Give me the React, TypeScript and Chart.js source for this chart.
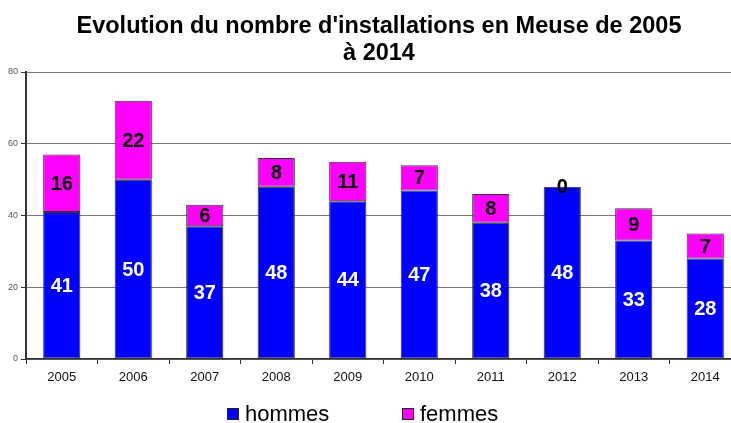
import React, { useEffect, useRef } from "react";
import { Chart, registerables } from "chart.js";

Chart.register(...registerables);

const years = ["2005", "2006", "2007", "2008", "2009", "2010", "2011", "2012", "2013", "2014"];
const hommes = [41, 50, 37, 48, 44, 47, 38, 48, 33, 28];
const femmes = [16, 22, 6, 8, 11, 7, 8, 0, 9, 7];
const titleLines = ["Evolution du nombre d'installations en Meuse de 2005", "à 2014"];
const yTicks = [0, 20, 40, 60, 80];

const FONT = "'Liberation Sans', Arial, sans-serif";

const titlePlugin = {
  id: "customTitle",
  afterDraw(chart: any) {
    const ctx = chart.ctx;
    ctx.save();
    ctx.fillStyle = "#000";
    ctx.font = `bold 23.5px ${FONT}`;
    ctx.textAlign = "center";
    ctx.textBaseline = "alphabetic";
    ctx.fillText(titleLines[0], 379, 33);
    ctx.fillText(titleLines[1], 379, 60);
    ctx.restore();
  },
};

const labelPlugin = {
  id: "barLabels",
  afterDatasetsDraw(chart: any) {
    const ctx = chart.ctx;
    ctx.save();
    ctx.font = `bold 20px ${FONT}`;
    ctx.textAlign = "center";
    ctx.textBaseline = "middle";
    chart.data.datasets.forEach((ds: any, di: number) => {
      const meta = chart.getDatasetMeta(di);
      meta.data.forEach((el: any, i: number) => {
        const v = ds.data[i];
        const cy = (el.y + el.base) / 2;
        ctx.fillStyle = di === 0 ? "#ffffff" : "#000000";
        ctx.fillText(String(v), el.x, cy + 1);
      });
    });
    ctx.restore();
  },
};

const legendPlugin = {
  id: "customLegend",
  afterDraw(chart: any) {
    const ctx = chart.ctx;
    const items = chart.data.datasets;
    const xs = [227, 402];
    ctx.save();
    ctx.font = `22px ${FONT}`;
    ctx.textBaseline = "alphabetic";
    items.forEach((ds: any, i: number) => {
      const x = xs[i];
      ctx.fillStyle = ds.backgroundColor;
      ctx.fillRect(x, 408, 12, 12);
      ctx.strokeStyle = "#222";
      ctx.lineWidth = 1;
      ctx.strokeRect(x + 0.5, 408.5, 11, 11);
      ctx.fillStyle = "#000";
      ctx.fillText(ds.label, x + 18, 421);
    });
    ctx.restore();
  },
};

export default function App() {
  const ref = useRef<HTMLCanvasElement>(null);
  useEffect(() => {
    if (!ref.current) return;
    const chart = new Chart(ref.current, {
      type: "bar",
      data: {
        labels: years,
        datasets: [
          {
            label: "hommes",
            data: hommes,
            backgroundColor: "#0000ff",
            borderColor: "#333",
            borderWidth: 1,
            borderSkipped: false,
          },
          {
            label: "femmes",
            data: femmes,
            backgroundColor: "#ff00ff",
            borderColor: "#333",
            borderWidth: 1,
            borderSkipped: false,
          },
        ],
      },
      options: {
        responsive: false,
        animation: false,
        layout: { padding: { top: 72, left: 0, right: 0, bottom: 0 } },
        plugins: {
          legend: { display: false },
          title: { display: false },
          tooltip: { enabled: false },
        },
        datasets: { bar: { barPercentage: 0.52, categoryPercentage: 1 } },
        scales: {
          x: {
            stacked: true,
            afterFit: (s: any) => {
              s.height = 64;
            },
            grid: {
              offset: true,
              drawOnChartArea: false,
              drawTicks: true,
              tickLength: 5,
              color: "#333",
            },
            border: { display: true, color: "#333", width: 1.5 },
            ticks: {
              padding: 6,
              color: "#111",
              font: { family: FONT, size: 13 },
              maxRotation: 0,
            },
          },
          y: {
            stacked: true,
            min: 0,
            max: 80,
            afterFit: (s: any) => {
              s.width = 26;
            },
            afterBuildTicks: (s: any) => {
              s.ticks = yTicks.map((v) => ({ value: v }));
            },
            grid: {
              color: "#777",
              lineWidth: 1,
              drawTicks: true,
              tickLength: 5,
              tickColor: "#333",
            },
            border: { display: true, color: "#333", width: 2 },
            ticks: {
              padding: 3,
              color: "#555",
              font: { family: FONT, size: 9 },
            },
          },
        },
      },
      plugins: [titlePlugin, labelPlugin, legendPlugin],
    } as any);
    return () => chart.destroy();
  }, []);
  return (
    <div
      style={{
        position: "fixed",
        left: 0,
        top: 0,
        width: 731,
        height: 423,
        overflow: "hidden",
        background: "#fff",
      }}
    >
      <canvas ref={ref} width={741} height={423} style={{ width: 741, height: 423, display: "block" }} />
    </div>
  );
}
